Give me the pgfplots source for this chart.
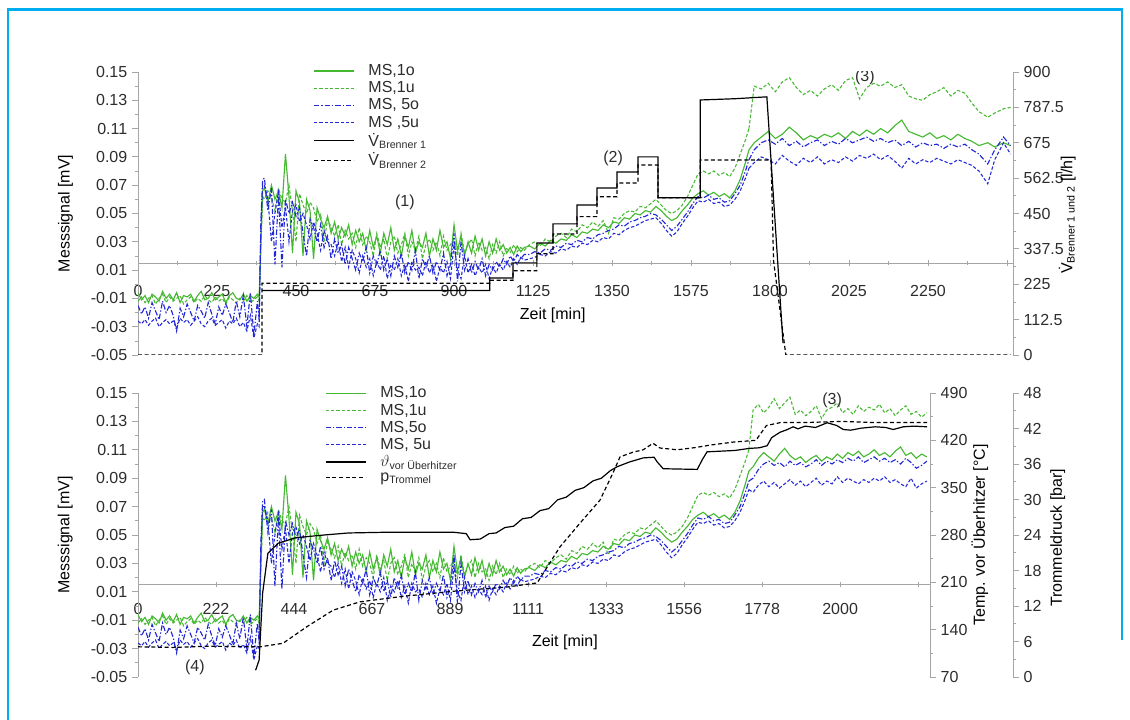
\documentclass[border=0pt]{standalone}
\usepackage{fontspec}
\setmainfont{Liberation Sans}
\usepackage{pgfplots}
\usepackage{pgfplotstable}
\pgfplotsset{compat=1.18}
\newcommand\chfont{\fontsize{12}{14}\selectfont}
\definecolor{msgreen}{RGB}{70,185,50}
\definecolor{msblue}{RGB}{35,40,215}
\definecolor{axgray}{RGB}{165,165,165}
\definecolor{framecol}{RGB}{0,174,239}
\definecolor{txt}{RGB}{45,45,45}

\pgfplotsset{
 ms1o/.style={msgreen, line width=0.85pt},
 ms1u/.style={msgreen, line width=0.8pt, dash pattern=on 2.5pt off 1.5pt},
 ms5o/.style={msblue, line width=0.85pt, dash pattern=on 4pt off 1.5pt on 1pt off 1.5pt},
 ms5u/.style={msblue, line width=0.8pt, dash pattern=on 2.5pt off 1.5pt},
 blk/.style={black, line width=0.9pt},
 blkd/.style={black, line width=0.9pt, dash pattern=on 3pt off 2pt},
 base/.style={scale only axis, anchor=south west, font=\chfont,
   tick label style={font=\chfont, text=txt},
   label style={font=\chfont, text=txt},
   axis line style={axgray, line width=0.6pt},
   major tick style={axgray, line width=0.6pt},
   minor tick style={axgray, line width=0.5pt},
   tick align=outside, major tick length=4.5pt, minor tick length=2.5pt},
 leg/.style={legend cell align=left,
   legend image code/.code={\draw[##1] (0pt,0pt) -- (30pt,0pt);},
   legend style={draw=none, fill=none, font=\chfont, text=txt, inner sep=0pt,
     nodes={inner sep=1.5pt}, row sep=0pt,
     /tikz/every odd column/.append style={column sep=9pt}}},
}

\pgfplotstableread{
t a b c d
0 -0.006 -0.012 -0.015 -0.026
10 -0.011 -0.009 -0.021 -0.028
20 -0.008 -0.013 -0.016 -0.025
30 -0.013 -0.010 -0.024 -0.029
40 -0.007 -0.008 -0.013 -0.026
50 -0.009 -0.014 -0.019 -0.024
60 -0.012 -0.010 -0.025 -0.030
70 -0.005 -0.007 -0.012 -0.027
80 -0.010 -0.013 -0.020 -0.025
90 -0.007 -0.009 -0.015 -0.028
100 -0.011 -0.012 -0.022 -0.026
110 -0.006 -0.010 -0.033 -0.031
120 -0.013 -0.008 -0.017 -0.024
130 -0.008 -0.014 -0.023 -0.027
140 -0.009 -0.011 -0.014 -0.025
150 -0.007 -0.009 -0.020 -0.029
160 -0.012 -0.013 -0.026 -0.026
170 -0.008 -0.010 -0.015 -0.023
180 -0.005 -0.012 -0.019 -0.028
190 -0.011 -0.008 -0.024 -0.030
200 -0.010 -0.011 -0.013 -0.026
210 -0.006 -0.013 -0.021 -0.024
220 -0.011 -0.009 -0.028 -0.029
230 -0.009 -0.012 -0.016 -0.027
240 -0.007 -0.010 -0.022 -0.025
250 -0.013 -0.014 -0.014 -0.031
260 -0.008 -0.009 -0.020 -0.026
270 -0.006 -0.011 -0.027 -0.028
280 -0.010 -0.013 -0.012 -0.024
290 -0.011 -0.010 -0.023 -0.030
300 -0.007 -0.012 -0.008 -0.027
310 -0.012 -0.008 -0.030 -0.033
320 -0.008 -0.013 -0.006 -0.022
330 -0.010 -0.011 -0.036 -0.038
340 -0.007 -0.009 -0.012 -0.028
345 -0.009 -0.012 -0.025 -0.030
350 0.030 0.025 0.045 0.040
355 0.066 0.062 0.074 0.070
360 0.068 0.060 0.075 0.070
370 0.058 0.066 0.052 0.060
380 0.070 0.062 0.068 0.030
390 0.060 0.052 0.014 0.050
400 0.066 0.068 0.062 0.065
410 0.054 0.060 0.012 0.040
420 0.092 0.058 0.060 0.055
430 0.062 0.070 0.050 0.030
440 0.022 0.052 0.058 0.052
450 0.066 0.030 0.048 0.056
460 0.058 0.064 0.054 0.044
470 0.020 0.056 0.036 0.050
480 0.060 0.050 0.020 0.042
490 0.052 0.058 0.046 0.032
500 0.018 0.054 0.040 0.044
510 0.054 0.044 0.030 0.036
520 0.046 0.050 0.042 0.024
530 0.040 0.030 0.026 0.038
540 0.048 0.046 0.034 0.030
550 0.036 0.040 0.018 0.028
560 0.044 0.034 0.032 0.020
570 0.032 0.042 0.022 0.030
580 0.040 0.028 0.028 0.016
590 0.034 0.038 0.014 0.026
600 0.042 0.032 0.026 0.012
610 0.028 0.036 0.018 0.024
620 0.038 0.026 0.010 0.018
630 0.030 0.040 0.022 0.008
640 0.036 0.028 0.016 0.020
650 0.024 0.034 0.026 0.012
660 0.038 0.030 0.008 0.018
670 0.026 0.020 0.020 0.006
680 0.034 0.036 0.014 0.016
690 0.022 0.026 0.024 0.010
700 0.036 0.032 0.010 0.020
710 0.028 0.018 0.018 0.004
720 0.040 0.030 0.006 0.014
730 0.024 0.034 0.020 0.010
740 0.032 0.022 0.012 0.018
750 0.020 0.028 0.022 0.006
760 0.034 0.036 0.008 0.014
770 0.026 0.020 0.016 0.002
780 0.038 0.030 0.010 0.016
790 0.022 0.024 0.024 0.010
800 0.030 0.034 0.004 0.012
810 0.026 0.018 0.018 0.006
820 0.036 0.028 0.012 0.016
830 0.020 0.032 0.020 0.008
840 0.032 0.024 0.008 0.014
850 0.024 0.030 0.016 0.002
860 0.038 0.020 0.010 0.012
870 0.026 0.034 0.022 0.008
880 0.030 0.024 0.006 0.016
890 0.018 0.028 0.014 0.004
900 0.042 0.032 0.036 0.028
910 0.024 0.020 0.002 0.010
920 0.034 0.036 0.030 0.004
930 0.020 0.022 0.010 0.020
940 0.030 0.028 0.018 0.008
950 0.022 0.032 0.008 0.014
960 0.034 0.020 0.016 0.006
970 0.024 0.030 0.010 0.012
980 0.032 0.024 0.018 0.008
990 0.020 0.026 0.006 0.014
1000 0.030 0.018 0.014 0.004
1010 0.022 0.028 0.010 0.012
1020 0.032 0.022 0.016 0.008
1030 0.024 0.030 0.012 0.014
1040 0.028 0.020 0.018 0.010
1050 0.022 0.026 0.014 0.016
1060 0.026 0.022 0.020 0.012
1070 0.021 0.028 0.016 0.018
1080 0.027 0.023 0.021 0.014
1090 0.023 0.026 0.018 0.019
1100 0.026 0.024 0.021 0.017
1115 0.027 0.028 0.021 0.018
1130 0.025 0.030 0.023 0.019
1145 0.029 0.027 0.022 0.021
1160 0.027 0.032 0.025 0.020
1175 0.031 0.030 0.024 0.023
1190 0.029 0.034 0.027 0.022
1205 0.032 0.036 0.026 0.025
1220 0.031 0.033 0.029 0.024
1235 0.035 0.039 0.028 0.027
1250 0.033 0.037 0.031 0.026
1265 0.037 0.042 0.030 0.029
1280 0.036 0.040 0.033 0.028
1295 0.039 0.044 0.032 0.031
1310 0.038 0.041 0.035 0.030
1325 0.042 0.045 0.036 0.033
1340 0.040 0.036 0.038 0.032
1355 0.044 0.047 0.039 0.036
1370 0.043 0.046 0.042 0.035
1385 0.047 0.050 0.041 0.038
1400 0.046 0.052 0.044 0.040
1415 0.050 0.051 0.045 0.041
1430 0.049 0.055 0.047 0.043
1445 0.052 0.054 0.048 0.045
1460 0.051 0.057 0.050 0.046
1475 0.055 0.060 0.049 0.047
1490 0.052 0.056 0.046 0.043
1505 0.048 0.052 0.042 0.038
1520 0.045 0.050 0.038 0.034
1535 0.047 0.052 0.041 0.037
1550 0.052 0.056 0.046 0.043
1565 0.056 0.062 0.051 0.048
1580 0.061 0.070 0.057 0.054
1595 0.064 0.078 0.062 0.059
1610 0.066 0.080 0.061 0.058
1625 0.063 0.078 0.063 0.060
1640 0.065 0.080 0.060 0.057
1655 0.062 0.077 0.061 0.058
1670 0.064 0.079 0.058 0.055
1685 0.061 0.076 0.059 0.056
1700 0.066 0.082 0.064 0.060
1715 0.074 0.092 0.070 0.066
1730 0.086 0.102 0.080 0.075
1740 0.095 0.110 0.088 0.082
}\shared

\pgfplotstableread{
t a b c d
1740 0.095 0.110 0.088 0.082
1755 0.100 0.140 0.095 0.086
1775 0.104 0.138 0.100 0.090
1795 0.108 0.142 0.102 0.088
1815 0.103 0.136 0.099 0.085
1835 0.106 0.143 0.103 0.091
1855 0.111 0.146 0.098 0.087
1875 0.107 0.139 0.101 0.084
1895 0.102 0.134 0.097 0.089
1915 0.105 0.137 0.100 0.086
1935 0.103 0.133 0.102 0.090
1955 0.106 0.138 0.098 0.085
1975 0.104 0.141 0.101 0.088
1995 0.107 0.137 0.099 0.086
2015 0.103 0.144 0.103 0.090
2035 0.108 0.146 0.100 0.087
2055 0.105 0.131 0.102 0.091
2075 0.109 0.139 0.104 0.089
2095 0.106 0.142 0.101 0.092
2115 0.110 0.140 0.103 0.088
2135 0.107 0.143 0.100 0.091
2155 0.112 0.139 0.102 0.087
2175 0.116 0.141 0.098 0.082
2195 0.108 0.133 0.101 0.089
2215 0.106 0.131 0.097 0.085
2235 0.104 0.130 0.100 0.088
2255 0.107 0.134 0.098 0.086
2275 0.103 0.136 0.099 0.089
2295 0.105 0.139 0.096 0.087
2315 0.102 0.133 0.099 0.085
2335 0.106 0.137 0.097 0.088
2355 0.103 0.135 0.099 0.086
2375 0.101 0.128 0.095 0.084
2395 0.098 0.122 0.092 0.080
2420 0.100 0.118 0.085 0.071
2440 0.097 0.121 0.095 0.088
2465 0.100 0.124 0.104 0.100
2485 0.098 0.125 0.098 0.092
}\toptail

\pgfplotstableread{
t a b c d
1740 0.095 0.110 0.088 0.082
1752 0.098 0.138 0.090 0.080
1767 0.104 0.142 0.096 0.085
1782 0.108 0.136 0.100 0.088
1797 0.105 0.140 0.102 0.084
1812 0.102 0.146 0.099 0.087
1827 0.107 0.139 0.101 0.083
1842 0.111 0.143 0.098 0.086
1857 0.106 0.147 0.102 0.089
1872 0.103 0.135 0.099 0.085
1887 0.105 0.138 0.101 0.088
1902 0.101 0.134 0.098 0.084
1917 0.104 0.137 0.100 0.087
1932 0.106 0.141 0.103 0.090
1947 0.102 0.132 0.099 0.085
1962 0.105 0.138 0.102 0.088
1977 0.103 0.140 0.100 0.086
1992 0.107 0.143 0.103 0.091
2007 0.104 0.136 0.101 0.087
2022 0.108 0.139 0.104 0.090
2037 0.106 0.135 0.102 0.088
2052 0.109 0.141 0.105 0.086
2067 0.105 0.137 0.101 0.089
2082 0.107 0.140 0.103 0.087
2097 0.110 0.138 0.105 0.090
2112 0.106 0.142 0.102 0.088
2127 0.108 0.136 0.104 0.091
2142 0.105 0.139 0.101 0.087
2157 0.109 0.134 0.103 0.089
2172 0.112 0.138 0.100 0.086
2187 0.106 0.141 0.104 0.084
2202 0.108 0.135 0.101 0.090
2217 0.104 0.137 0.097 0.083
2232 0.107 0.133 0.099 0.086
2247 0.105 0.136 0.102 0.088
}\bottail

\begin{document}
\begin{tikzpicture}
\path[use as bounding box, fill=white] (0,0) rectangle (847.5pt,540pt);

%================ TOP =================
\begin{axis}[base, at={(103.5pt,273.75pt)}, width=656.25pt, height=212.25pt,
  xmin=0, xmax=2492, ymin=-0.065, ymax=0.135,
  axis x line*=middle, axis y line=none,
  xtick={0,225,450,675,900,1125,1350,1575,1800,2025,2250,2475},
  xticklabels={0,225,450,675,900,1125,1350,1575,1800,2025,2250,{}},
  minor x tick num=1, tick align=center, major tick length=4pt, minor tick length=3pt,
  xticklabel shift=11pt,
  xlabel={Zeit [min]},
  every axis x label/.style={at={(axis description cs:0.474,0.141)}, anchor=center}]
\end{axis}

\begin{axis}[base, leg, at={(103.5pt,273.75pt)}, width=656.25pt, height=212.25pt,
  xmin=0, xmax=2492, ymin=-0.05, ymax=0.15,
  axis y line*=left, axis x line=none,
  ytick={-0.05,-0.03,-0.01,0.01,0.03,0.05,0.07,0.09,0.11,0.13,0.15},
  yticklabels={-0.05,-0.03,-0.01,0.01,0.03,0.05,0.07,0.09,0.11,0.13,0.15},
  minor y tick num=1,
  ylabel={Messsignal [mV]},
  every axis y label/.style={at={(axis description cs:-0.083,0.5)}, rotate=90, anchor=center},
  legend style={at={(axis description cs:0.2,1.035)}, anchor=north west}]
\addplot[ms1o] table[x=t,y=a] {\shared};
\addplot[ms1u] table[x=t,y=b] {\shared};
\addplot[ms5o] table[x=t,y=c] {\shared};
\addplot[ms5u] table[x=t,y=d] {\shared};
\addplot[ms1o, forget plot] table[x=t,y=a] {\toptail};
\addplot[ms1u, forget plot] table[x=t,y=b] {\toptail};
\addplot[ms5o, forget plot] table[x=t,y=c] {\toptail};
\addplot[ms5u, forget plot] table[x=t,y=d] {\toptail};
\addlegendentry{MS,1o}
\addlegendentry{MS,1u}
\addlegendentry{MS, 5o}
\addlegendentry{MS ,5u}
\addlegendimage{blk}
\addlegendentry{\.{V}\textsubscript{Brenner 1}}
\addlegendimage{blkd}
\addlegendentry{\.{V}\textsubscript{Brenner 2}}
\node[font=\chfont, text=txt] at (axis cs:760,0.058) {(1)};
\node[font=\chfont, text=txt] at (axis cs:1353,0.089) {(2)};
\node[font=\chfont, text=txt] at (axis cs:2070,0.1465) {(3)};
\end{axis}

\begin{axis}[base, at={(103.5pt,273.75pt)}, width=656.25pt, height=212.25pt,
  xmin=0, xmax=2492, ymin=0, ymax=900,
  axis y line*=right, axis x line=none,
  ytick={0,112.5,225,337.5,450,562.5,675,787.5,900},
  yticklabels={0,112.5,225,337.5,450,562.5,675,787.5,900},
  minor y tick num=1,
  ylabel={\.{V}\textsubscript{Brenner 1 und 2} [l/h]},
  every axis y label/.style={at={(axis description cs:1.062,0.495)}, rotate=90, anchor=center}]
\addplot[blk] coordinates {(353,205) (1002,205) (1002,245) (1068,245) (1068,293) (1136,293)
  (1136,356) (1182,356) (1182,417) (1250,417) (1250,477) (1307,477) (1307,531) (1364,531)
  (1364,582) (1424,582) (1424,630) (1481,630) (1481,500) (1601,500) (1601,811) (1700,815)
  (1791,821) (1837,38)};
\addplot[blkd] coordinates {(0,0) (353,0) (353,228) (1002,228) (1002,238) (1068,238) (1068,268)
  (1136,268) (1136,322) (1182,322) (1182,385) (1250,385) (1250,440) (1307,440) (1307,503)
  (1364,503) (1364,547) (1424,547) (1424,604) (1481,604) (1481,500) (1601,500) (1601,620)
  (1803,620) (1810,300) (1845,0) (2485,0)};
\end{axis}

%================ BOTTOM =================
\begin{axis}[base, at={(103.5pt,32.25pt)}, width=594pt, height=213pt,
  xmin=0, xmax=2256, ymin=-0.065, ymax=0.135,
  axis x line*=middle, axis y line=none,
  xtick={0,222.22,444.44,666.67,888.89,1111.11,1333.33,1555.56,1777.78,2000,2222.22},
  xticklabels={0,222,444,667,889,1111,1333,1556,1778,2000,{}},
  minor x tick num=1, tick align=center, major tick length=4pt, minor tick length=3pt,
  xticklabel shift=8.5pt,
  xlabel={Zeit [min]},
  every axis x label/.style={at={(axis description cs:0.539,0.123)}, anchor=center}]
\end{axis}

\begin{axis}[base, leg, at={(103.5pt,32.25pt)}, width=594pt, height=213pt,
  xmin=0, xmax=2256, ymin=-0.05, ymax=0.15,
  axis y line*=left, axis x line=none,
  ytick={-0.05,-0.03,-0.01,0.01,0.03,0.05,0.07,0.09,0.11,0.13,0.15},
  yticklabels={-0.05,-0.03,-0.01,0.01,0.03,0.05,0.07,0.09,0.11,0.13,0.15},
  minor y tick num=1,
  ylabel={Messsignal [mV]},
  every axis y label/.style={at={(axis description cs:-0.092,0.5)}, rotate=90, anchor=center},
  legend style={at={(axis description cs:0.236,1.03)}, anchor=north west}]
\addplot[ms1o] table[x=t,y=a] {\shared};
\addplot[ms1u] table[x=t,y=b] {\shared};
\addplot[ms5o] table[x=t,y=c] {\shared};
\addplot[ms5u] table[x=t,y=d] {\shared};
\addplot[ms1o, forget plot] table[x=t,y=a] {\bottail};
\addplot[ms1u, forget plot] table[x=t,y=b] {\bottail};
\addplot[ms5o, forget plot] table[x=t,y=c] {\bottail};
\addplot[ms5u, forget plot] table[x=t,y=d] {\bottail};
\addlegendentry{MS,1o}
\addlegendentry{MS,1u}
\addlegendentry{MS,5o}
\addlegendentry{MS, 5u}
\addlegendimage{blk}
\addlegendentry{$\vartheta$\textsubscript{vor Überhitzer}}
\addlegendimage{blkd}
\addlegendentry{p\textsubscript{Trommel}}
\node[font=\chfont, text=txt] at (axis cs:1977,0.145) {(3)};
\node[font=\chfont, text=txt] at (axis cs:162,-0.043) {(4)};
\end{axis}

\begin{axis}[base, at={(103.5pt,32.25pt)}, width=594pt, height=213pt,
  xmin=0, xmax=2256, ymin=70, ymax=490,
  axis y line*=right, axis x line=none,
  ytick={70,140,210,280,350,420,490},
  yticklabels={70,140,210,280,350,420,490},
  minor y tick num=1,
  ylabel={Temp. vor Überhitzer [°C]},
  every axis y label/.style={at={(axis description cs:1.063,0.5)}, rotate=90, anchor=center}]
\addplot[blk] coordinates {(335,80) (345,95) (355,194) (370,253) (400,268) (450,276) (530,280)
  (600,283) (700,284) (800,284) (900,284) (935,282) (946,273) (975,274) (1000,282) (1020,283)
  (1045,291) (1070,293) (1095,304) (1120,306) (1145,316) (1170,319) (1195,332) (1220,336)
  (1245,346) (1270,350) (1296,360) (1320,364) (1345,375) (1365,381) (1400,388) (1439,394)
  (1470,395) (1479,388) (1496,378) (1593,377) (1608,392) (1621,403) (1700,405) (1740,408)
  (1770,409) (1792,412) (1805,424) (1829,432) (1850,436) (1866,440) (1880,437) (1900,441)
  (1930,439) (1963,446) (1990,442) (2009,436) (2030,435) (2060,438) (2100,440) (2130,439)
  (2151,436) (2180,440) (2210,441) (2248,440)};
\end{axis}

\begin{axis}[base, at={(103.5pt,32.25pt)}, width=656.25pt, height=213pt,
  xmin=0, xmax=2492.4, ymin=0, ymax=48,
  axis y line*=right, axis x line=none,
  ytick={0,6,12,18,24,30,36,42,48},
  yticklabels={0,6,12,18,24,30,36,42,48},
  minor y tick num=1,
  ylabel={Trommeldruck [bar]},
  every axis y label/.style={at={(axis description cs:1.051,0.49)}, rotate=90, anchor=center}]
\addplot[blkd] coordinates {(0,5.1) (100,5.0) (200,5.2) (348,5.1) (413,5.7) (481,8.5) (556,11.3)
  (632,12.7) (750,13.6) (900,14.5) (1050,15.2) (1137,15.9) (1202,22) (1259,26) (1316,29.9)
  (1353,34.5) (1373,37.2) (1410,38) (1439,38.4) (1467,39.5) (1487,38.7) (1536,38.4) (1590,38.8)
  (1630,39.2) (1695,39.7) (1760,40) (1790,42.5) (1830,43) (1900,43) (2000,43.2) (2100,43) (2248,43)};
\end{axis}

\draw[framecol, line width=2.2pt] (6pt,0pt) -- (6pt,532.9pt) -- (841.5pt,532.9pt) -- (841.5pt,60pt);
\end{tikzpicture}
\end{document}
